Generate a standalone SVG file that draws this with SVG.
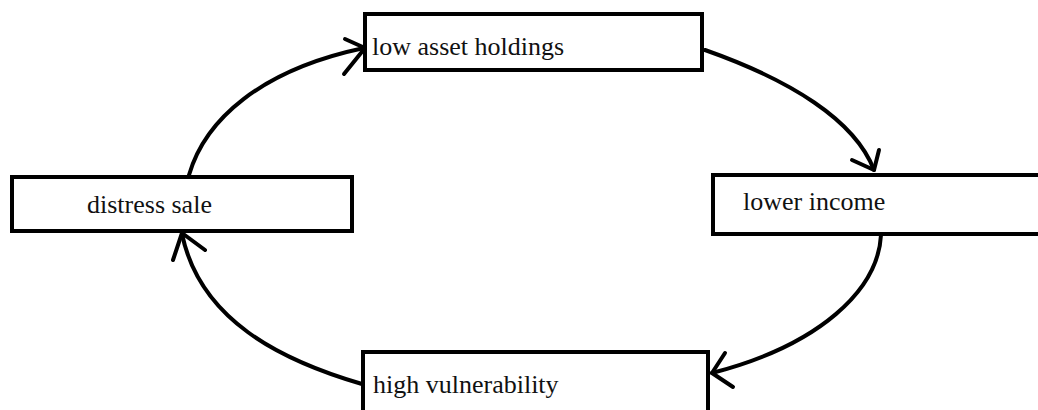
<svg xmlns="http://www.w3.org/2000/svg" width="1038" height="410" viewBox="0 0 1038 410">
  <style>
    .box { fill: #ffffff; stroke: #000000; stroke-width: 4; }
    .label { font-family: "Liberation Serif", "Times New Roman", serif; font-size: 26px; fill: #111111; }
    .arc { fill: none; stroke: #000000; stroke-width: 4; stroke-linecap: round; }
    .head { fill: none; stroke: #000000; stroke-width: 4; stroke-linecap: round; stroke-linejoin: round; }
  </style>
  <rect width="1038" height="410" fill="#ffffff"/>

  <!-- cycle connectors: curved arcs with open hand-drawn arrowheads -->
  <g id="connectors">
    <path class="arc" d="M189,175 C205,120 260,70 364,48"/>
    <path class="head" d="M345,39 L365,48 L344,74"/>

    <path class="arc" d="M705,50 C790,80 855,120 874,170"/>
    <path class="head" d="M852,160 L874,170 L879,150"/>

    <path class="arc" d="M881,235 C878,290 820,345 712,373"/>
    <path class="head" d="M725,353 L712,373 L733,387"/>

    <path class="arc" d="M362,384 C280,360 200,320 182,234"/>
    <path class="head" d="M173,260 L182,233 L205,250"/>
  </g>

  <g id="low-asset-holdings">
    <rect class="box" x="365" y="14" width="337" height="56"/>
    <text class="label" x="372" y="55">low asset holdings</text>
  </g>

  <g id="lower-income">
    <rect class="box" x="713" y="175" width="340" height="59"/>
    <text class="label" x="743" y="210">lower income</text>
  </g>

  <g id="high-vulnerability">
    <rect class="box" x="363" y="352" width="345" height="70"/>
    <text class="label" x="373" y="393">high vulnerability</text>
  </g>

  <g id="distress-sale">
    <rect class="box" x="12" y="177" width="340" height="54"/>
    <text class="label" x="87" y="213">distress sale</text>
  </g>
</svg>
